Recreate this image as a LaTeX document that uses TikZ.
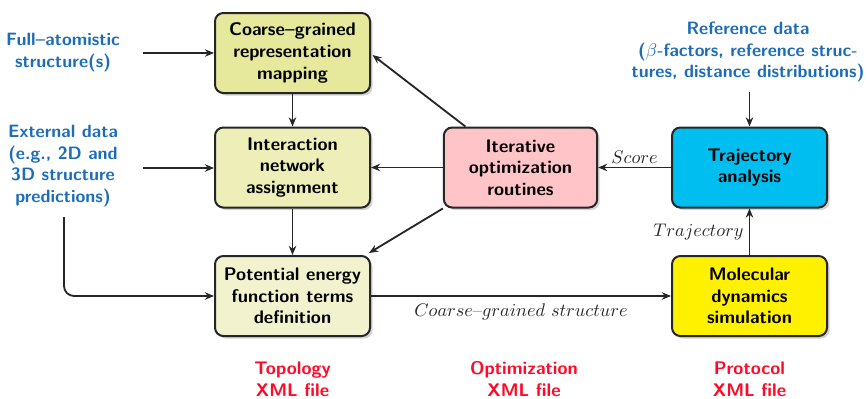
\documentclass[tikz,border=0pt]{standalone}
\usetikzlibrary{arrows.meta,shadows,calc}
\definecolor{boxA}{RGB}{230,232,155}
\definecolor{boxB}{RGB}{238,239,184}
\definecolor{boxC}{RGB}{243,242,206}
\definecolor{boxPink}{RGB}{255,196,200}
\definecolor{boxCyan}{RGB}{0,191,240}
\definecolor{boxYel}{RGB}{255,241,0}
\definecolor{txtBlue}{RGB}{28,108,184}
\definecolor{txtRed}{RGB}{255,10,40}
\tikzset{
  procbox/.style={draw=black!85, line width=1.2pt, rounded corners=5pt,
    minimum width=93pt, minimum height=48pt, align=center, inner sep=2pt,
    font=\sffamily\bfseries\fontsize{10.95}{13}\selectfont,
    drop shadow={shadow xshift=1.5pt, shadow yshift=-1.5pt, opacity=0.35}},
  bluetxt/.style={text=txtBlue, align=center, font=\sffamily\bfseries\fontsize{10.7}{13}\selectfont},
  redtxt/.style={text=txtRed, align=center, font=\sffamily\bfseries\fontsize{10.95}{13}\selectfont},
  arr/.style={line width=1.1pt, black!85, -{Stealth[length=5.5pt,width=4.5pt]}},
  lbl/.style={font=\fontsize{10.95}{13}\selectfont, inner sep=1pt}
}
\begin{document}
\begin{tikzpicture}[x=0.6pt,y=-0.6pt]
\useasboundingbox (0,0) rectangle (867,398);
% boxes
\node[procbox, fill=boxA] (cg) at (292.5,53) {Coarse--grained\\representation\\mapping};
\node[procbox, fill=boxB] (inet) at (292.5,167.5) {Interaction\\network\\assignment};
\node[procbox, fill=boxC] (pot) at (292.5,296) {Potential energy\\function terms\\definition};
\node[procbox, fill=boxPink, minimum width=92pt] (iter) at (520.5,167.5) {Iterative\\optimization\\routines};
\node[procbox, fill=boxCyan] (traj) at (749.5,167.5) {Trajectory\\analysis};
\node[procbox, fill=boxYel] (md) at (749.5,296) {Molecular\\dynamics\\simulation};
% blue inputs
\node[bluetxt] (full) at (63,52.5) {Full--atomistic\\structure(s)};
\node[bluetxt] (ext) at (63,166) {External data\\(e.g., 2D and\\3D structure\\predictions)};
\node[bluetxt] (ref) at (748,52) {Reference data\\($\beta$-factors, reference struc-\\tures, distance distributions)};
\coordinate (fullout) at (143,53);
\coordinate (extout) at (143,168);
\coordinate (extdown) at (64,217);
\coordinate (refout) at (749.5,92);
% red labels
\node[redtxt] (topo) at (292.5,379) {Topology\\XML file};
\node[redtxt] (opt) at (524,379) {Optimization\\XML file};
\node[redtxt] (prot) at (749.5,379) {Protocol\\XML file};
% connectors
\draw[arr] (fullout) -- (fullout -| cg.west);
\draw[arr] (extout) -- (extout -| inet.west);
\draw[arr, rounded corners=6pt] (extdown) |- (pot.west);
\draw[arr] (refout) -- (traj.north);
\draw[arr] (cg.south) -- (inet.north);
\draw[arr] (inet.south) -- (pot.north);
\draw[arr] ($(iter.north west)!0.145!(iter.north east)$) -- ($(cg.east)+(1.5,2)$);
\draw[arr] (iter.west) -- (inet.east);
\draw[arr] (iter.south west) -- ($(pot.north east)+(-2,-2)$);
\draw[arr] (traj.west) -- node[lbl, above=1pt] {$Score$} (iter.east);
\draw[arr] (md.north) -- node[lbl, left=2pt] {$Trajectory$} (traj.south);
\draw[arr] (pot.east) -- node[lbl, below=3pt] {$Coarse$--$grained$ $structure$} (md.west);
\end{tikzpicture}
\end{document}
